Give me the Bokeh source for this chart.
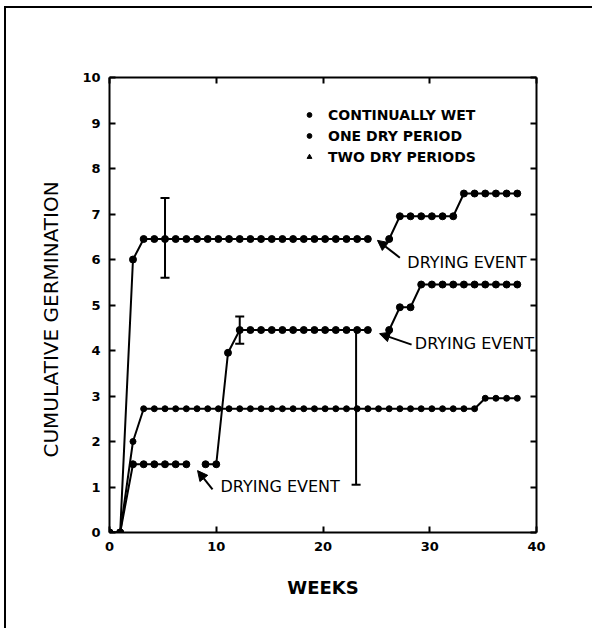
from bokeh.plotting import figure
from bokeh.models import (Range1d, LinearAxis, FixedTicker, Arrow, NormalHead, Whisker,
                          TeeHead, ColumnDataSource, Legend, LegendItem, Label, Title)
from bokeh.embed import file_html
from bokeh.resources import INLINE

nan = float("nan")

# ---------------- data ----------------
wet_weeks = [0, 1, 2.2, 3.2, 4.2, 5.2, 6.2, 7.2, 8.2, 9.2, 10.2, 11.2, 12.2, 13.2, 14.2,
             15.2, 16.2, 17.2, 18.2, 19.2, 20.2, 21.2, 22.2, 23.2, 24.2, 25.2, 26.2, 27.2,
             28.2, 29.2, 30.2, 31.2, 32.2, 33.2, 34.2, 35.2, 36.2, 37.2, 38.2]
wet_values = [0, 0, 2.0, 2.72, 2.72, 2.72, 2.72, 2.72, 2.72, 2.72, 2.72, 2.72, 2.72, 2.72,
              2.72, 2.72, 2.72, 2.72, 2.72, 2.72, 2.72, 2.72, 2.72, 2.72, 2.72, 2.72, 2.72,
              2.72, 2.72, 2.72, 2.72, 2.72, 2.72, 2.72, 2.72, 2.95, 2.95, 2.95, 2.95]

one_weeks = [0, 1, 2.2, 3.2, 4.2, 5.2, 6.2, 7.2, 8.2, 9.2, 10.2, 11.2, 12.2, 13.2, 14.2,
             15.2, 16.2, 17.2, 18.2, 19.2, 20.2, 21.2, 22.2, 23.2, 24.2, nan, 26.2, 27.2,
             28.2, 29.2, 30.2, 31.2, 32.2, 33.2, 34.2, 35.2, 36.2, 37.2, 38.2]
one_values = [0, 0, 6.0, 6.45, 6.45, 6.45, 6.45, 6.45, 6.45, 6.45, 6.45, 6.45, 6.45, 6.45,
              6.45, 6.45, 6.45, 6.45, 6.45, 6.45, 6.45, 6.45, 6.45, 6.45, 6.45, nan, 6.45,
              6.95, 6.95, 6.95, 6.95, 6.95, 6.95, 7.45, 7.45, 7.45, 7.45, 7.45, 7.45]

two_weeks = [0, 1, 2.2, 3.2, 4.2, 5.2, 6.2, 7.2, nan, 9.0, 10.0, 11.1, 12.2, 13.2, 14.2,
             15.2, 16.2, 17.2, 18.2, 19.2, 20.2, 21.2, 22.2, 23.2, 24.2, nan, 26.2, 27.2,
             28.2, 29.2, 30.2, 31.2, 32.2, 33.2, 34.2, 35.2, 36.2, 37.2, 38.2]
two_values = [0, 0, 1.5, 1.5, 1.5, 1.5, 1.5, 1.5, nan, 1.5, 1.5, 3.95, 4.45, 4.45, 4.45,
              4.45, 4.45, 4.45, 4.45, 4.45, 4.45, 4.45, 4.45, 4.45, 4.45, nan, 4.45, 4.95,
              4.95, 5.45, 5.45, 5.45, 5.45, 5.45, 5.45, 5.45, 5.45, 5.45, 5.45]

err_weeks = [5.2, 12.2, 23.1]
err_lower = [5.6, 4.15, 1.05]
err_upper = [7.35, 4.75, 4.45]

legend_labels = ["CONTINUALLY WET", "ONE DRY PERIOD", "TWO DRY PERIODS"]

event_text = "DRYING EVENT"
event_text_x = [27.9, 28.6, 10.4]
event_text_y = [5.93, 4.15, 1.01]
arrow_x_start = [27.2, 28.3, 9.65]
arrow_y_start = [6.04, 4.13, 0.95]
arrow_x_end = [25.1, 25.3, 8.25]
arrow_y_end = [6.42, 4.37, 1.36]

x_ticks = [0, 10, 20, 30, 40]
y_ticks = [0, 1, 2, 3, 4, 5, 6, 7, 8, 9, 10]

x_title = "WEEKS"
y_title = "CUMULATIVE GERMINATION"

FONT = "DejaVu Sans"

# ---------------- figure ----------------
p = figure(width=588, height=622, x_range=Range1d(0, 40), y_range=Range1d(0, 10),
           output_backend="svg", toolbar_location=None,
           min_border_left=103, min_border_right=58, min_border_top=69, min_border_bottom=98,
           x_axis_label=x_title)
p.margin = (6, 0, 0, 4)
p.styles = {"border-top": "2px solid black", "border-left": "2px solid black"}
p.xgrid.visible = False
p.ygrid.visible = False
p.outline_line_color = None
p.background_fill_color = "white"
p.border_fill_color = "white"

p.add_layout(LinearAxis(), "right")
p.add_layout(LinearAxis(), "above")

for ax in p.xaxis:
    ax.ticker = FixedTicker(ticks=x_ticks)
for ax in p.yaxis:
    ax.ticker = FixedTicker(ticks=y_ticks)

for ax in p.axis:
    ax.axis_line_width = 2
    ax.axis_line_color = "black"
    ax.major_tick_in = 6
    ax.major_tick_out = 0
    ax.major_tick_line_width = 2
    ax.major_tick_line_color = "black"
    ax.minor_tick_line_color = None
    ax.major_label_text_font = FONT
    ax.major_label_text_font_style = "bold"
    ax.major_label_text_font_size = "13px"
    ax.major_label_text_color = "black"
    ax.major_label_standoff = 9

p.right[0].major_label_text_color = None
p.above[0].major_label_text_color = None

xa = p.below[0]
xa.axis_label_text_font = FONT
xa.axis_label_text_font_style = "bold"
xa.axis_label_text_font_size = "18px"
xa.axis_label_standoff = 23
xa.axis_label_text_color = "black"

# y title beside the left axis, sitting a little below the frame centre as in the original
p.add_layout(Title(text=y_title, align="left", offset=75, standoff=33,
                   text_font=FONT, text_font_size="20px", text_font_style="normal",
                   text_color="black"), "left")

# ---------------- series ----------------
for wk, vals, sz in [(wet_weeks, wet_values, 6), (one_weeks, one_values, 7),
                     (two_weeks, two_values, 7)]:
    src = ColumnDataSource(dict(x=wk, y=vals))
    p.line("x", "y", source=src, line_color="black", line_width=2)
    p.scatter("x", "y", source=src, marker="circle", size=sz, fill_color="black",
              line_color="black")

# error bars
esrc = ColumnDataSource(dict(base=err_weeks, lower=err_lower, upper=err_upper))
p.add_layout(Whisker(base="base", lower="lower", upper="upper", source=esrc,
                     dimension="height", line_width=2, line_color="black",
                     upper_head=TeeHead(size=9, line_width=2, line_color="black"),
                     lower_head=TeeHead(size=9, line_width=2, line_color="black")))

# drying-event annotations
for tx, ty, xs, ys, xe, ye in zip(event_text_x, event_text_y, arrow_x_start, arrow_y_start,
                                  arrow_x_end, arrow_y_end):
    p.add_layout(Arrow(x_start=xs, y_start=ys, x_end=xe, y_end=ye, line_width=2,
                       line_color="black",
                       end=NormalHead(size=10, fill_color="black", line_color="black")))
    p.add_layout(Label(x=tx, y=ty, text=event_text, text_font=FONT, text_font_size="16px",
                       text_baseline="middle", text_align="left", text_color="black"))

# legend (legend-only glyph renderers, no visible points)
r1 = p.scatter([nan], [nan], marker="circle", size=5, fill_color="black", line_color="black")
r2 = p.scatter([nan], [nan], marker="circle", size=7, fill_color="black", line_color="black")
r3 = p.scatter([nan], [nan], marker="triangle", size=7, fill_color="black", line_color="black")
legend = Legend(items=[LegendItem(label=legend_labels[0], renderers=[r1]),
                       LegendItem(label=legend_labels[1], renderers=[r2]),
                       LegendItem(label=legend_labels[2], renderers=[r3])],
                location=(194, 365), padding=0, margin=0, spacing=0,
                glyph_width=12, glyph_height=21, label_height=21, label_standoff=13,
                border_line_color=None, background_fill_alpha=0,
                label_text_font=FONT, label_text_font_style="bold",
                label_text_font_size="14px", label_text_color="black")
p.add_layout(legend)

open("out.html", "w").write(file_html(p, INLINE))
